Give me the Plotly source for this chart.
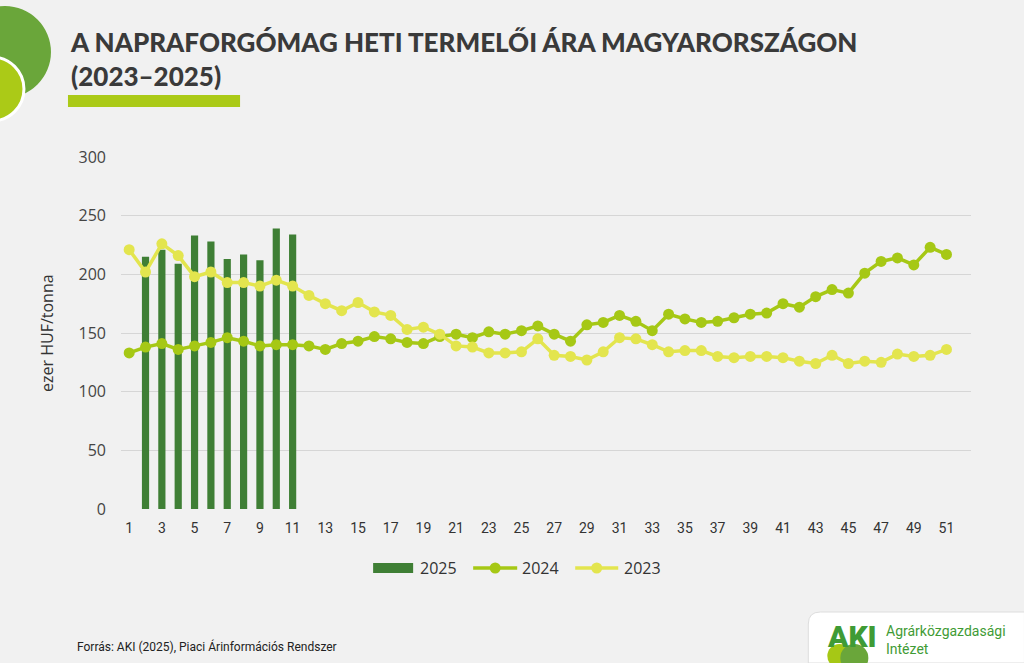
import plotly.graph_objects as go

W, H = 1024, 663
weeks = list(range(1, 53))
x_ticks = list(range(1, 52, 2))

weeks_2025 = [2, 3, 4, 5, 6, 7, 8, 9, 10, 11]
price_2025 = [215, 221, 209, 233, 228, 213, 217, 212, 239, 234]

weeks_2024 = list(range(1, 52))
price_2024 = [133, 138, 141, 136, 139, 142, 146, 143, 139, 140,
              140, 139, 136, 141, 143, 147, 145, 142, 141, 147,
              149, 146, 151, 149, 152, 156, 149, 143, 157, 159,
              165, 160, 152, 166, 162, 159, 160, 163, 166, 167,
              175, 172, 181, 187, 184, 201, 211, 214, 208, 223, 217]

weeks_2023 = list(range(1, 52))
price_2023 = [221, 202, 226, 216, 198, 202, 193, 193, 190, 195,
              190, 182, 175, 169, 176, 168, 165, 153, 155, 149,
              139, 138, 133, 133, 134, 145, 131, 130, 127, 134,
              146, 145, 140, 134, 135, 135, 130, 129, 130, 130,
              129, 126, 124, 131, 124, 126, 125, 132, 130, 131, 136]

y_ticks = [0, 50, 100, 150, 200, 250, 300]
series_names = ["2025", "2024", "2023"]

C_BAR = "#3f7f35"
C_24 = "#a6c815"
C_23 = "#e3e54e"
BG = "#f1f1f1"
TXT = "#333333"

L, R, T, B = 121, 53.4, 157, 154
pw = W - L - R
ph = H - T - B

def px(x):
    return (x - L) / pw

def py(y):
    return (H - B - y) / ph

fig = go.Figure()
fig.add_trace(go.Bar(x=weeks_2025, y=price_2025, name=series_names[0],
                     marker=dict(color=C_BAR, line=dict(width=0))))
fig.add_trace(go.Scatter(x=weeks_2024, y=price_2024, name=series_names[1], mode="lines+markers",
                         line=dict(color=C_24, width=3.5),
                         marker=dict(color=C_24, size=11)))
fig.add_trace(go.Scatter(x=weeks_2023, y=price_2023, name=series_names[2], mode="lines+markers",
                         line=dict(color=C_23, width=3.5),
                         marker=dict(color=C_23, size=11)))

fig.update_layout(
    width=W, height=H, autosize=False,
    paper_bgcolor=BG, plot_bgcolor=BG,
    margin=dict(l=L, r=R, t=T, b=B),
    bargap=0.56,
    showlegend=False,
    xaxis=dict(range=[0.5, 52.5], tickmode="array", tickvals=x_ticks,
               ticktext=[str(v) for v in x_ticks], showgrid=False, zeroline=False,
               showline=False, ticks="", ticklabelstandoff=9,
               tickfont=dict(family="Roboto", size=14, color=TXT)),
    yaxis=dict(range=[0, 300], tickmode="array", tickvals=y_ticks,
               showgrid=True, gridcolor="#d6d6d6", gridwidth=1, zeroline=False,
               showline=False, ticks="", ticklabelstandoff=14,
               tickfont=dict(family="Open Sans", size=16, color="#444444")),
)

shapes = []
# decorative circles
shapes.append(dict(type="circle", xref="paper", yref="paper",
                   x0=px(5 - 46), x1=px(5 + 46), y0=py(52 + 46), y1=py(52 - 46),
                   fillcolor="#6aa63a", line=dict(width=0), layer="above"))
shapes.append(dict(type="circle", xref="paper", yref="paper",
                   x0=px(-8 - 32), x1=px(-8 + 32), y0=py(89 + 32), y1=py(89 - 32),
                   fillcolor="#abca17", line=dict(width=3, color="#ffffff"), layer="above"))
# underline bar
shapes.append(dict(type="rect", xref="paper", yref="paper",
                   x0=px(68), x1=px(240), y0=py(107), y1=py(95),
                   fillcolor="#abca17", line=dict(width=0), layer="above"))
# custom legend
ly = 568
shapes.append(dict(type="rect", xref="paper", yref="paper",
                   x0=px(373), x1=px(413), y0=py(ly + 5), y1=py(ly - 5),
                   fillcolor=C_BAR, line=dict(width=0), layer="above"))
for (xa, xb, col) in [(473, 517, C_24), (575, 618, C_23)]:
    shapes.append(dict(type="line", xref="paper", yref="paper",
                       x0=px(xa), x1=px(xb), y0=py(ly), y1=py(ly),
                       line=dict(color=col, width=3.5), layer="above"))
    xm = (xa + xb) / 2
    shapes.append(dict(type="circle", xref="paper", yref="paper",
                       x0=px(xm - 5.5), x1=px(xm + 5.5), y0=py(ly + 5.5), y1=py(ly - 5.5),
                       fillcolor=col, line=dict(width=0), layer="above"))
# logo box
x0b, y0b = 808, 612
path = (f"M {px(x0b)},{py(H)} L {px(x0b)},{py(y0b + 12)} "
        f"Q {px(x0b)},{py(y0b)} {px(x0b + 12)},{py(y0b)} L {px(W)},{py(y0b)} L {px(W)},{py(H)} Z")
shapes.append(dict(type="path", xref="paper", yref="paper", path=path,
                   fillcolor="#ffffff", line=dict(width=1, color="#dddddd"), layer="above"))
# hills under AKI
shapes.append(dict(type="circle", xref="paper", yref="paper",
                   x0=px(827), x1=px(851), y0=py(668), y1=py(644),
                   fillcolor="#a6c815", line=dict(width=0), layer="above"))
shapes.append(dict(type="circle", xref="paper", yref="paper",
                   x0=px(840), x1=px(868), y0=py(672), y1=py(644),
                   fillcolor="#6aa63a", line=dict(width=0), layer="above"))

annotations = []
annotations.append(dict(xref="paper", yref="paper", x=px(68), y=py(59),
                        xanchor="left", yanchor="middle", align="left", showarrow=False,
                        text="A NAPRAFORGÓMAG HETI TERMELŐI ÁRA MAGYARORSZÁGON<br>(2023–2025)",
                        font=dict(family="Lato", size=26, weight=900, color="#3a3a3a")))
annotations.append(dict(xref="paper", yref="paper", x=px(47), y=py(333),
                        xanchor="center", yanchor="middle", showarrow=False, textangle=-90,
                        text="ezer HUF/tonna",
                        font=dict(family="Open Sans", size=16, color=TXT)))
for name, xl in zip(series_names, [418, 520, 622]):
    annotations.append(dict(xref="paper", yref="paper", x=px(xl), y=py(ly),
                            xanchor="left", yanchor="middle", showarrow=False,
                            text=name, font=dict(family="Open Sans", size=16, color=TXT)))
annotations.append(dict(xref="paper", yref="paper", x=px(75), y=py(646),
                        xanchor="left", yanchor="middle", showarrow=False,
                        text="Forrás: AKI (2025), Piaci Árinformációs Rendszer",
                        font=dict(family="Roboto", size=12, color="#222222")))
annotations.append(dict(xref="paper", yref="paper", x=px(825), y=py(636),
                        xanchor="left", yanchor="middle", showarrow=False,
                        text="AKI",
                        font=dict(family="Roboto", size=30, weight=900, color="#3f9b35")))
annotations.append(dict(xref="paper", yref="paper", x=px(884), y=py(640),
                        xanchor="left", yanchor="middle", showarrow=False, align="left",
                        text="Agrárközgazdasági<br>Intézet",
                        font=dict(family="Roboto", size=14, color="#3f9b35")))

fig.update_layout(shapes=shapes, annotations=annotations)
fig.write_html("out.html")
